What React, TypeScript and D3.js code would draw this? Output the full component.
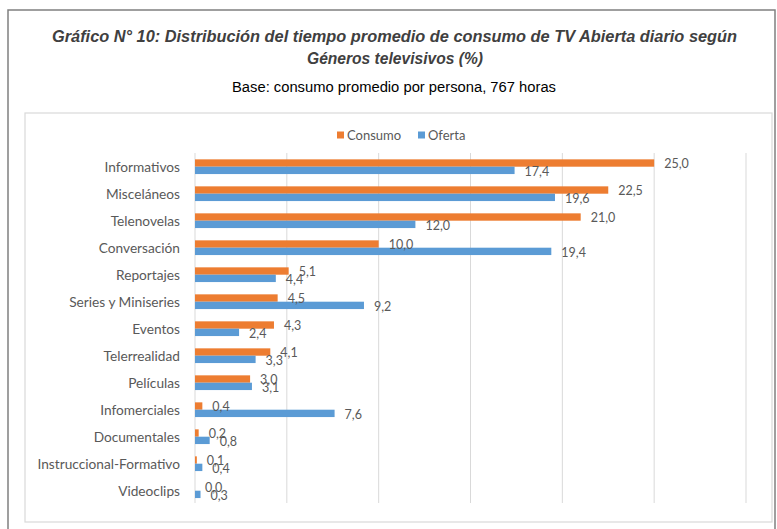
import React from "react";
import * as d3 from "d3";

const categories = [
  "Informativos",
  "Misceláneos",
  "Telenovelas",
  "Conversación",
  "Reportajes",
  "Series y Miniseries",
  "Eventos",
  "Telerrealidad",
  "Películas",
  "Infomerciales",
  "Documentales",
  "Instruccional-Formativo",
  "Videoclips",
];
const consumo = [25.0, 22.5, 21.0, 10.0, 5.1, 4.5, 4.3, 4.1, 3.0, 0.4, 0.2, 0.1, 0.0];
const oferta = [17.4, 19.6, 12.0, 19.4, 4.4, 9.2, 2.4, 3.3, 3.1, 7.6, 0.8, 0.4, 0.3];
const xTicks = [0, 5, 10, 15, 20, 25, 30];
const seriesNames = ["Consumo", "Oferta"];
const colors = ["#ED7D31", "#5B9BD5"];

const W = 777;
const H = 529;

export default function App() {
  const x = d3.scaleLinear().domain([0, 30]).range([195, 746]);
  const y = d3.scaleBand<string>().domain(categories).range([153.2, 504.2]).paddingInner(0.455).paddingOuter(0.2275);
  const sub = d3.scaleBand<string>().domain(seriesNames).range([0, y.bandwidth()]);
  const fmt = (v: number) => v.toFixed(1).replace(".", ",");
  const labelFont = "Lato, 'Open Sans', sans-serif";
  const series = [consumo, oferta];

  return (
    <svg width={W} height={H} style={{ position: "absolute", left: 0, top: 0, background: "#fff" }}>
      <rect x={0} y={0} width={W} height={H} fill="#fff" />
      {/* outer frame */}
      <path d={`M8,${H + 2} L8,10 L775,10 L775,${H + 2}`} fill="none" stroke="#808080" strokeWidth={1.5} />
      {/* title */}
      <text x={394.5} y={42} textAnchor="middle" textLength={685} lengthAdjust="spacingAndGlyphs" fontFamily="'Liberation Sans', Arial, sans-serif" fontStyle="italic" fontWeight="bold" fontSize={16} fill="#404040">
        Gráfico N° 10: Distribución del tiempo promedio de consumo de TV Abierta diario según
      </text>
      <text x={395} y={64} textAnchor="middle" textLength={176} lengthAdjust="spacingAndGlyphs" fontFamily="'Liberation Sans', Arial, sans-serif" fontStyle="italic" fontWeight="bold" fontSize={16} fill="#404040">
        Géneros televisivos (%)
      </text>
      <text x={394} y={92} textAnchor="middle" textLength={324} lengthAdjust="spacingAndGlyphs" fontFamily="'Liberation Sans', Arial, sans-serif" fontSize={14} fill="#000">
        Base: consumo promedio por persona, 767 horas
      </text>
      {/* inner chart box */}
      <rect x={25} y={113} width={747} height={409} fill="#fff" stroke="#d9d9d9" strokeWidth={1.2} />
      {/* legend */}
      {seriesNames.map((n, i) => {
        const lx = i === 0 ? 337 : 418;
        return (
          <g key={n}>
            <rect x={lx} y={131.5} width={7} height={7} fill={colors[i]} />
            <text x={lx + 10} y={135} dominantBaseline="central" fontFamily={labelFont} fontSize={13} fill="#595959">
              {n}
            </text>
          </g>
        );
      })}
      {/* gridlines */}
      {xTicks.map((t) => (
        <line key={t} x1={x(t)} x2={x(t)} y1={153} y2={503} stroke="#d9d9d9" strokeWidth={1} />
      ))}
      {/* category labels */}
      {categories.map((c) => (
        <text key={c} x={180} y={(y(c) as number) + y.bandwidth() / 2} textAnchor="end" dominantBaseline="central" fontFamily={labelFont} fontSize={13.7} fill="#595959">
          {c}
        </text>
      ))}
      {/* bars */}
      {series.map((vals, si) =>
        categories.map((c, ci) => {
          const by = (y(c) as number) + (sub(seriesNames[si]) as number);
          return (
            <rect key={`${si}-${c}`} x={x(0)} y={by} width={x(vals[ci]) - x(0)} height={sub.bandwidth()} fill={colors[si]} />
          );
        })
      )}
      {/* data labels */}
      {series.map((vals, si) =>
        categories.map((c, ci) => {
          const by = (y(c) as number) + (sub(seriesNames[si]) as number) + sub.bandwidth() / 2 + (si === 1 ? 1 : 0);
          return (
            <text key={`l${si}-${c}`} x={x(vals[ci]) + 10} y={by} dominantBaseline="central" fontFamily={labelFont} fontSize={12.5} fill="#595959">
              {fmt(vals[ci])}
            </text>
          );
        })
      )}
    </svg>
  );
}
